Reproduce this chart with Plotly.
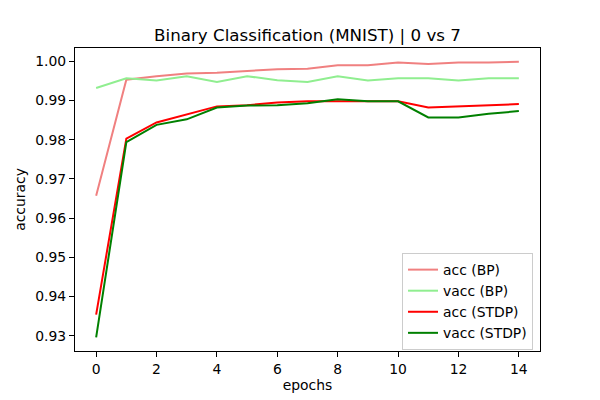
import plotly.graph_objects as go

epochs = list(range(15))
acc_bp = [0.9657, 0.9953, 0.9962, 0.9969, 0.9971, 0.9975, 0.9980, 0.9981, 0.9990, 0.9990, 0.9997, 0.9993, 0.9997, 0.9997, 0.9999]
vacc_bp = [0.9932, 0.9957, 0.9951, 0.9962, 0.9947, 0.9962, 0.9952, 0.9947, 0.9962, 0.9951, 0.9957, 0.9957, 0.9951, 0.9957, 0.9957]
acc_stdp = [0.9354, 0.9803, 0.9844, 0.9865, 0.9885, 0.9888, 0.9895, 0.9898, 0.9898, 0.9897, 0.9898, 0.9882, 0.9885, 0.9889, 0.9891]
vacc_stdp = [0.9296, 0.9794, 0.9838, 0.9852, 0.9882, 0.9887, 0.9888, 0.9893, 0.9903, 0.9898, 0.9898, 0.9857, 0.9857, 0.9866, 0.9873]

series = [
    ("acc (BP)", acc_bp, "#F08080"),
    ("vacc (BP)", vacc_bp, "#90EE90"),
    ("acc (STDP)", acc_stdp, "#FF0000"),
    ("vacc (STDP)", vacc_stdp, "#008000"),
]

font = "DejaVu Sans"
fig = go.Figure()
for name, vals, color in series:
    fig.add_trace(go.Scatter(x=epochs, y=vals, mode="lines", name=name,
                             line=dict(color=color, width=2)))

axis_common = dict(showline=True, linecolor="black", linewidth=1, mirror=True,
                   ticks="outside", ticklen=5, tickcolor="black", showgrid=False,
                   zeroline=False, automargin=False,
                   tickfont=dict(family=font, size=13.9, color="black"))

# page body has an 8px margin, so the figure is offset by 8px
fig.update_layout(
    width=600, height=400,
    margin=dict(l=67, r=68, t=40, b=57, autoexpand=False),
    paper_bgcolor="white", plot_bgcolor="white",
    title=dict(text="Binary Classification (MNIST) | 0 vs 7", x=299.5 / 600, xanchor="center",
               y=1 - 27 / 400, yanchor="middle", automargin=False,
               font=dict(family=font, size=16.7, color="black")),
    xaxis=dict(range=[-0.7, 14.7], tickmode="linear", tick0=0, dtick=2,
               title=dict(text="epochs", font=dict(family=font, size=13.9, color="black"), standoff=4),
               **axis_common),
    yaxis=dict(range=[0.9261, 1.0034], tickmode="linear", tick0=0.93, dtick=0.01, tickformat=".2f",
               title=dict(text="accuracy", font=dict(family=font, size=13.9, color="black"), standoff=6),
               **axis_common),
    legend=dict(x=0.985, y=0.003, xanchor="right", yanchor="bottom",
                bgcolor="rgba(255,255,255,0.8)", bordercolor="#cccccc", borderwidth=1,
                font=dict(family=font, size=13.9, color="black"), tracegroupgap=0,
                itemwidth=30),
    showlegend=True,
)

fig.write_html("out.html")
